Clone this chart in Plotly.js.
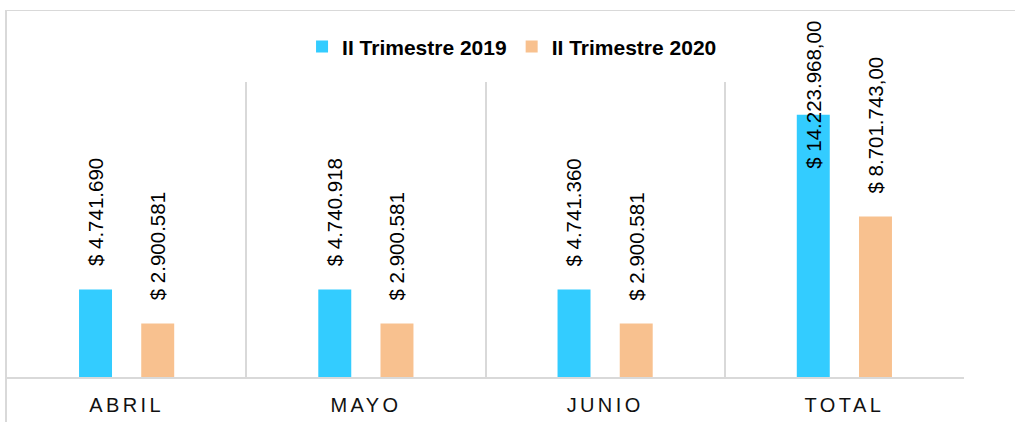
<!DOCTYPE html>
<html>
<head>
<meta charset="utf-8">
<script src="https://cdn.plot.ly/plotly-3.0.1.min.js"></script>
<style>
  html, body { margin: 0; padding: 0; overflow: hidden; background: #ffffff; }
  #frame { position: absolute; left: 5px; top: 10px; width: 2000px; height: 2000px;
           border-left: 2px solid #d9d9d9; border-top: 1px solid #d9d9d9; }
  #chart { position: absolute; left: 0; top: 0; width: 1015px; height: 422px; }
  #chart .xtick text { letter-spacing: 3.4px; }
</style>
</head>
<body>
<div id="frame"></div>
<div id="chart"></div>
<script>
// ---- data ----
const categories = ["ABRIL", "MAYO", "JUNIO", "TOTAL"];
const seriesNames = ["II Trimestre 2019", "II Trimestre 2020"];
const values2019 = [4741690, 4740918, 4741360, 14223968];
const values2020 = [2900581, 2900581, 2900581, 8701743];
const labels2019 = ["$ 4.741.690", "$ 4.740.918", "$ 4.741.360", "$ 14.223.968,00"];
const labels2020 = ["$ 2.900.581", "$ 2.900.581", "$ 2.900.581", "$ 8.701.743,00"];

// ---- style ----
const colors = ["#33CCFF", "#F8C18F"];
const yMax = 16000000;
const bargap = 0.48;
const labelFont = { family: "Liberation Sans, Arial, sans-serif", size: 20.5, color: "#000000" };

const traces = [
  { type: "bar", name: seriesNames[0], x: categories, y: values2019,
    marker: { color: colors[0] }, hoverinfo: "none" },
  { type: "bar", name: seriesNames[1], x: categories, y: values2020,
    marker: { color: colors[1] }, hoverinfo: "none" }
];

// data labels (rotated), placed over each bar through the axes
const annotations = [];
const offset = (1 - bargap) / 4;
[[values2019, labels2019, -offset], [values2020, labels2020, offset]].forEach(([vals, labs, off]) => {
  vals.forEach((v, i) => {
    const a = { x: i + off, xref: "x", text: labs[i], textangle: -90, showarrow: false,
                font: labelFont, xanchor: "center" };
    if (v / yMax > 0.8) {
      // label would not fit above the bar: pinned near chart top (as in the source)
      a.yref = "paper"; a.y = 1.215; a.yanchor = "top";
    } else {
      a.yref = "y"; a.y = v; a.yanchor = "bottom"; a.yshift = 21;
    }
    annotations.push(a);
  });
});

const layout = {
  width: 1015, height: 422,
  margin: { l: 7, r: 51, t: 82, b: 45, pad: 0 },
  paper_bgcolor: "rgba(0,0,0,0)",
  plot_bgcolor: "rgba(0,0,0,0)",
  barmode: "group",
  bargap: bargap,
  bargroupgap: 0.47,
  showlegend: true,
  legend: {
    orientation: "h", x: 0.3083, xanchor: "left", y: 1.119, yanchor: "middle",
    font: { family: "Liberation Sans, Arial, sans-serif", size: 21, weight: "bold", color: "#000000" },
    itemwidth: 30, traceorder: "normal", bgcolor: "rgba(0,0,0,0)"
  },
  xaxis: {
    type: "category",
    tickson: "boundaries",
    showgrid: true, gridcolor: "#d9d9d9", gridwidth: 2,
    showline: true, linecolor: "#d9d9d9", linewidth: 2,
    ticks: "", ticklabelstandoff: 9,
    tickfont: { family: "Liberation Sans, Arial, sans-serif", size: 20, color: "#111111" },
    fixedrange: true
  },
  yaxis: {
    range: [0, yMax],
    showgrid: false, zeroline: false, showline: false, showticklabels: false, ticks: "",
    fixedrange: true
  },
  annotations: annotations
};

Plotly.newPlot("chart", traces, layout, { displayModeBar: false, staticPlot: true });
</script>
</body>
</html>
